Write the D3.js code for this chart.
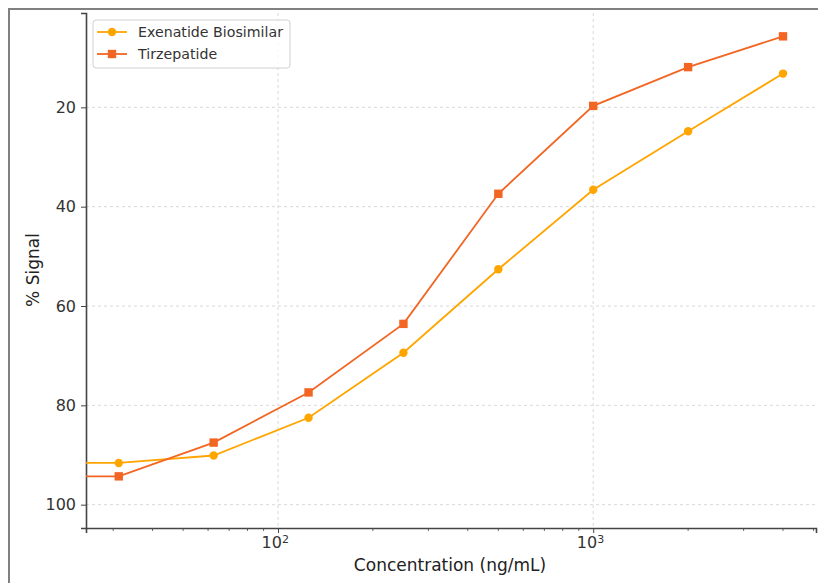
<!DOCTYPE html>
<html>
<head>
<meta charset="utf-8">
<script src="https://cdn.jsdelivr.net/npm/d3@7"></script>
<style>
  body { margin: 0; background: #fff; }
  svg { display: block; font-family: "DejaVu Sans", sans-serif; }
</style>
</head>
<body>
<div id="chart"></div>
<script>
// data
var concentrations = [31.25, 62.5, 125, 250, 500, 1000, 2000, 4000];
var exenatide = [91.6, 90.1, 82.5, 69.4, 52.6, 36.6, 24.8, 13.2];
var tirzepatide = [94.3, 87.5, 77.4, 63.6, 37.4, 19.7, 11.9, 5.7];
var seriesNames = ["Exenatide Biosimilar", "Tirzepatide"];
var yTicks = [20, 40, 60, 80, 100];
var xMajorTicks = [100, 1000];
var xTickLabels = ["10", "10"];
var xTickExp = ["2", "3"];

var W = 818, H = 583;
var margin = {left: 86, right: 2, top: 13, bottom: 55};
var w = W - margin.left - margin.right,
    h = H - margin.top - margin.bottom;

var svg = d3.select("#chart").append("svg")
  .attr("width", W).attr("height", H);

// outer frame of the original figure (cropped)
svg.append("path")
  .attr("d", "M9," + H + "V9H" + W)
  .attr("fill", "none").attr("stroke", "#808080").attr("stroke-width", 2);

var x = d3.scaleLog().domain([24.6, 5090]).range([0, w]);
var y = d3.scaleLinear().domain([1.0, 104.7]).range([0, h]);

var g = svg.append("g").attr("transform", "translate(" + margin.left + "," + margin.top + ")");

g.append("clipPath").attr("id", "clip")
  .append("rect").attr("width", w).attr("height", h);

// grid
g.selectAll(".gy").data(yTicks).enter().append("line")
  .attr("x1", 0).attr("x2", w)
  .attr("y1", function(d) { return y(d); }).attr("y2", function(d) { return y(d); })
  .attr("stroke", "#cfcfcf").attr("stroke-width", 0.8).attr("stroke-dasharray", "3,3");
g.selectAll(".gx").data(xMajorTicks).enter().append("line")
  .attr("y1", 0).attr("y2", h)
  .attr("x1", function(d) { return x(d); }).attr("x2", function(d) { return x(d); })
  .attr("stroke", "#cfcfcf").attr("stroke-width", 0.8).attr("stroke-dasharray", "3,3");

// minor ticks on log axis
var minor = [];
[10, 100, 1000].forEach(function(b) {
  for (var k = 2; k <= 9; k++) {
    var v = b * k;
    if (v > 24.6 && v < 5090) minor.push(v);
  }
});
g.selectAll(".mt").data(minor).enter().append("line")
  .attr("x1", function(d) { return x(d); }).attr("x2", function(d) { return x(d); })
  .attr("y1", h).attr("y2", h + 3)
  .attr("stroke", "#444").attr("stroke-width", 0.8);

// x axis
var xAxis = d3.axisBottom(x).tickValues(xMajorTicks)
  .tickFormat(function(d, i) { return xTickLabels[i]; })
  .tickSize(5).tickPadding(4);
var xg = g.append("g").attr("transform", "translate(0," + h + ")").call(xAxis);
xg.select(".domain").attr("stroke", "#444").attr("stroke-width", 1.6);
xg.selectAll(".tick line").attr("stroke", "#444").attr("stroke-width", 1);
xg.selectAll(".tick text").attr("font-size", 16).attr("fill", "#333")
  .attr("font-family", "DejaVu Sans, sans-serif")
  .attr("text-anchor", "middle").attr("dx", "-0.2em")
  .each(function(d, i) {
    d3.select(this).append("tspan").attr("dy", "-0.45em").attr("font-size", 11).text(xTickExp[i]);
  });

// y axis
var yAxis = d3.axisLeft(y).tickValues(yTicks).tickSize(5).tickPadding(5);
var yg = g.append("g").call(yAxis);
yg.select(".domain").attr("stroke", "#444").attr("stroke-width", 1.6);
yg.selectAll(".tick line").attr("stroke", "#444").attr("stroke-width", 1);
yg.selectAll("text").attr("font-size", 16).attr("fill", "#333")
  .attr("font-family", "DejaVu Sans, sans-serif");

// axis titles
svg.append("text")
  .attr("x", 450).attr("y", 571)
  .attr("text-anchor", "middle").attr("font-size", 17).attr("fill", "#222")
  .text("Concentration (ng/mL)");
svg.append("text")
  .attr("transform", "translate(39," + 270 + ") rotate(-90)")
  .attr("text-anchor", "middle").attr("font-size", 17).attr("fill", "#222")
  .text("% Signal");

// series
var colors = ["#ffa500", "#f26522"];
var series = [exenatide, tirzepatide];

var line = d3.line()
  .x(function(d) { return x(d[0]); })
  .y(function(d) { return y(d[1]); });

var plot = g.append("g").attr("clip-path", "url(#clip)");

series.forEach(function(vals, s) {
  // the line runs flat off the left edge toward the untreated point
  var pts = [[x.domain()[0] / 2, vals[0]]].concat(concentrations.map(function(c, i) { return [c, vals[i]]; }));
  plot.append("path").datum(pts)
    .attr("d", line).attr("fill", "none")
    .attr("stroke", colors[s]).attr("stroke-width", 1.8);

  var m = plot.selectAll(".m" + s).data(concentrations).enter();
  if (s === 0) {
    m.append("circle")
      .attr("cx", function(d) { return x(d); })
      .attr("cy", function(d, i) { return y(vals[i]); })
      .attr("r", 4.2).attr("fill", colors[s]);
  } else {
    m.append("rect")
      .attr("x", function(d) { return x(d) - 4.2; })
      .attr("y", function(d, i) { return y(vals[i]) - 4.2; })
      .attr("width", 8.4).attr("height", 8.4).attr("fill", colors[s]);
  }
});

// legend
var lg = svg.append("g").attr("transform", "translate(93,20)");
lg.append("rect").attr("width", 197).attr("height", 48).attr("rx", 3)
  .attr("fill", "#fff").attr("fill-opacity", 0.8)
  .attr("stroke", "#d0d0d0").attr("stroke-width", 1);
seriesNames.forEach(function(name, i) {
  var yy = 12 + i * 22;
  lg.append("line").attr("x1", 4).attr("x2", 34).attr("y1", yy).attr("y2", yy)
    .attr("stroke", colors[i]).attr("stroke-width", 1.8);
  if (i === 0) {
    lg.append("circle").attr("cx", 19).attr("cy", yy).attr("r", 4.2).attr("fill", colors[i]);
  } else {
    lg.append("rect").attr("x", 14.8).attr("y", yy - 4.2).attr("width", 8.4).attr("height", 8.4).attr("fill", colors[i]);
  }
  lg.append("text").attr("x", 45).attr("y", yy + 5)
    .attr("font-size", 14.2).attr("fill", "#333").text(name);
});
</script>
</body>
</html>
